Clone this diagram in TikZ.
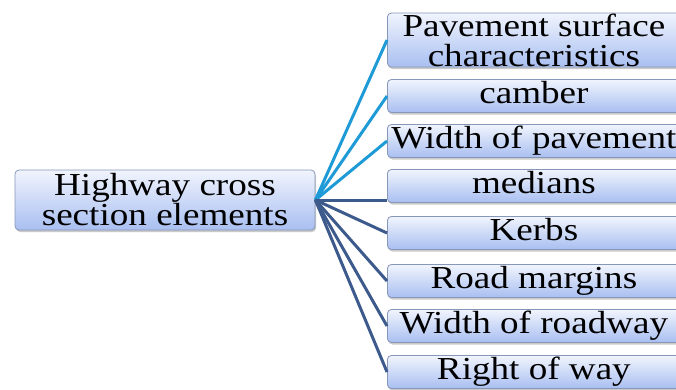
\documentclass[tikz,border=0pt]{standalone}
\usepackage{fontspec}
\setmainfont{Liberation Serif}[FakeStretch=1.16]
\usetikzlibrary{shadows}

\definecolor{boxtop}{HTML}{F0F4FD}
\definecolor{boxbot}{HTML}{A9BFF1}
\definecolor{boxline}{HTML}{8797B8}
\definecolor{lightlink}{HTML}{1E9BD7}
\definecolor{darklink}{HTML}{3D5A8C}

\tikzset{
  elem/.style={draw=boxline, line width=0.8pt, rounded corners=4pt,
    top color=boxtop, bottom color=boxbot,
    drop shadow={shadow xshift=1pt, shadow yshift=-2pt, opacity=0.35, fill=black!60},
    align=center, inner sep=0pt, font=\fontsize{32}{30}\selectfont},
  item/.style={elem, anchor=west, minimum width=293pt, minimum height=33pt,
    text height=22pt, text depth=7pt},
  lightlink/.style={draw=lightlink, line width=3pt},
  darklink/.style={draw=darklink, line width=3pt}
}

\begin{document}
\begin{tikzpicture}[x=1pt,y=-1pt]
\useasboundingbox (0,0) rectangle (676,389);
\clip (0,0) rectangle (676,389);

\node[elem, minimum width=300pt, minimum height=60pt] (hw) at (165,200) {Highway cross\\section elements};

\node[item, minimum height=54pt, text height=, text depth=] (psc) at (387,40) {Pavement surface\\characteristics};
\node[item] (cam) at (387,96) {camber};
\node[item] (wop) at (387,141) {Width of pavement};
\node[item] (med) at (387,186) {medians};
\node[item] (kerb) at (387,233) {Kerbs};
\node[item] (rm) at (387,281) {Road margins};
\node[item] (wor) at (387,326) {Width of roadway};
\node[item] (row) at (387,372) {Right of way};

% links
\draw[lightlink] (hw.east) -- (psc.west);
\draw[lightlink] (hw.east) -- (cam.west);
\draw[lightlink] (hw.east) -- (wop.west);
\draw[darklink] (hw.east) -- (hw.east -| med.west);
\draw[darklink] (hw.east) -- (kerb.west);
\draw[darklink] (hw.east) -- (rm.west);
\draw[darklink] (hw.east) -- (wor.west);
\draw[darklink] (hw.east) -- (row.west);

\end{tikzpicture}
\end{document}
